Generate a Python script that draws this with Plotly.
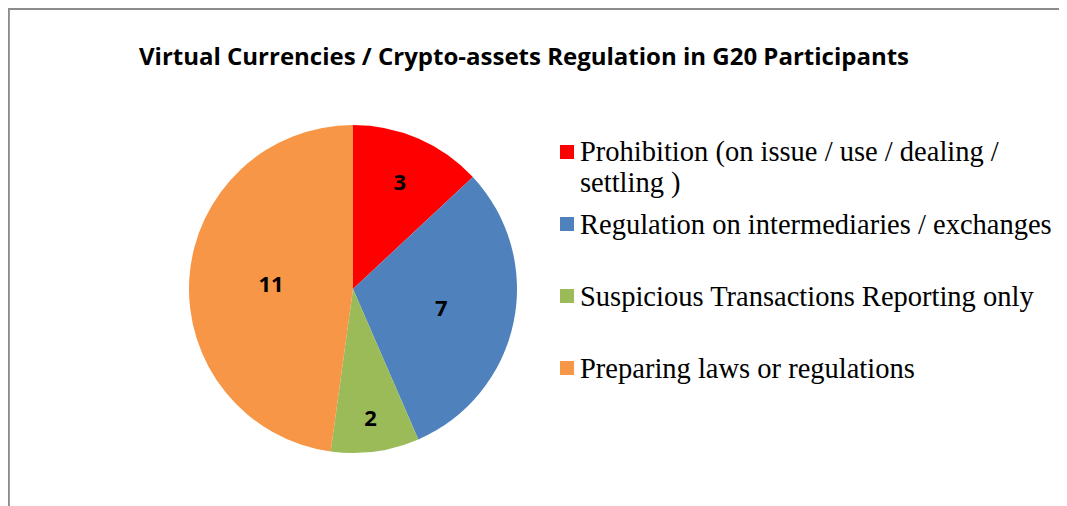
import plotly.graph_objects as go

categories = [
    "Prohibition (on issue / use / dealing /<br>settling )",
    "Regulation on intermediaries / exchanges",
    "Suspicious Transactions Reporting only",
    "Preparing laws or regulations",
]
values = [3, 7, 2, 11]
colors = ["#FF0000", "#4F81BD", "#9BBB59", "#F79646"]
title_text = "Virtual Currencies / Crypto-assets Regulation in G20 Participants"

# page body adds an 8px margin; the figure itself starts at (8, 8) of the window
OFF = 8
W, H = 1067 - OFF, 506 - OFF


def px(x):
    return (x - OFF) / W


def py(y):
    return 1 - (y - OFF) / H


cx, cy, R = 353, 289, 164

fig = go.Figure(
    go.Pie(
        labels=categories,
        values=values,
        marker=dict(colors=colors, line=dict(width=0)),
        sort=False,
        direction="clockwise",
        rotation=0,
        textinfo="value",
        textposition="inside",
        insidetextorientation="horizontal",
        textfont=dict(family="Open Sans", size=22, color="black", weight="bold"),
        domain=dict(x=[px(cx - R), px(cx + R)], y=[py(cy + R), py(cy - R)]),
        showlegend=False,
        hoverinfo="label+value",
    )
)

# manual legend
legend_font = dict(family="Liberation Serif", size=28.5, color="black")
row_y = [152, 224, 296, 368]
line_gap = 31
for cat, col, ry in zip(categories, colors, row_y):
    fig.add_shape(
        type="rect", xref="paper", yref="paper",
        x0=px(560), x1=px(574), y0=py(ry - 7), y1=py(ry + 7),
        fillcolor=col, line=dict(width=0),
    )
    for i, line in enumerate(cat.split("<br>")):
        fig.add_annotation(
            xref="paper", yref="paper", x=px(578), y=py(ry + i * line_gap),
            xanchor="left", yanchor="middle", align="left", showarrow=False,
            text=line, font=legend_font,
        )

# chart border (left and top edges visible)
fig.add_shape(type="line", xref="paper", yref="paper", x0=0.0008, x1=0.0008, y0=0, y1=1,
              line=dict(color="#8C8C8C", width=2))
fig.add_shape(type="line", xref="paper", yref="paper", x0=0, x1=1, y0=0.998, y1=0.998,
              line=dict(color="#8C8C8C", width=2))

fig.update_layout(
    width=W, height=H,
    margin=dict(l=0, r=0, t=0, b=0),
    paper_bgcolor="white",
    plot_bgcolor="white",
    title=dict(
        text="<b>" + title_text + "</b>",
        x=px(524), xanchor="center", y=py(57), yanchor="middle",
        font=dict(family="Open Sans", size=24, color="black"),
    ),
)

fig.write_html("out.html")
